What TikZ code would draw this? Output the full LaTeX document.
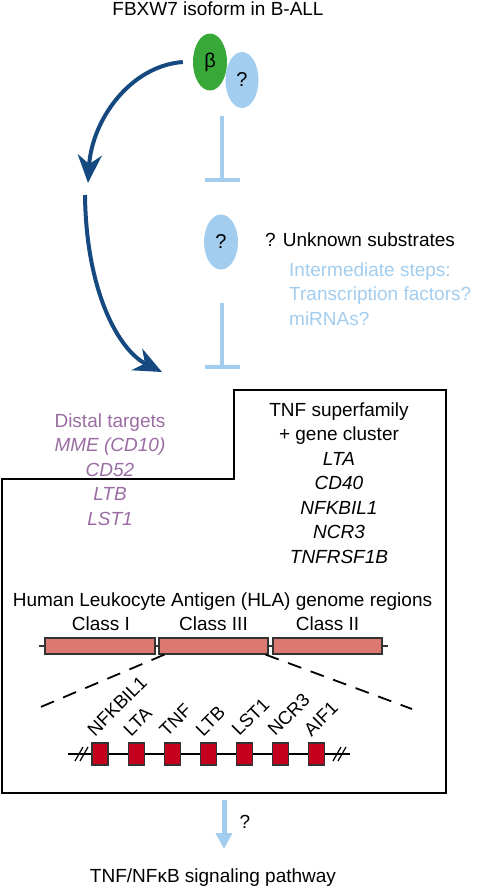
\documentclass[tikz,border=0pt]{standalone}
\usepackage{fontspec}
\setmainfont{Liberation Sans}
\usetikzlibrary{positioning,shapes.geometric,arrows.meta}
\definecolor{dkblue}{HTML}{15497F}
\definecolor{ltblue}{HTML}{A2CDEF}
\definecolor{leafgreen}{HTML}{38A838}
\definecolor{distal}{HTML}{9A6DA2}
\definecolor{salmon}{HTML}{DB786F}
\definecolor{crimson}{HTML}{C4001E}
\tikzset{
  txt/.style={font=\fontsize{19}{23}\selectfont, inner sep=0pt, anchor=base},
  blob/.style={ellipse, inner sep=0pt, font=\fontsize{20}{24}\selectfont},
  inhib/.style={line width=4pt, draw=ltblue, -{Bar[width=35pt 0]}},
  darrow/.style={line width=4pt, draw=dkblue, -{Stealth[length=28pt,width=24pt,inset=9pt]}},
  hlabar/.style={draw=black!80, fill=salmon, line width=1.2pt, minimum height=16pt, inner sep=0pt},
  genebox/.style={draw=black!80, fill=crimson, line width=1.2pt, minimum width=16pt, minimum height=22pt, inner sep=0pt},
  genelabel/.style={rotate=45, anchor=south west, inner sep=0pt, font=\fontsize{18.5}{22}\selectfont},
}
\begin{document}
\begin{tikzpicture}[x=1pt,y=-1pt]
\path[use as bounding box] (0,0) rectangle (477,886);
% top: FBXW7 isoform
\node[txt] (title) at (218,16) {FBXW7 isoform in B-ALL};
\node[blob, fill=leafgreen, minimum width=34pt, minimum height=57pt] (beta) at (210,62) {β};
\node[blob, fill=ltblue, minimum width=33pt, minimum height=56pt] (q1) at (242,80) {?};
\coordinate (i1s) at (222,116);
\coordinate (i1e) at (222,181.5);
\draw[inhib] (i1s) -- (i1e);
% substrates
\node[blob, fill=ltblue, minimum width=34pt, minimum height=55pt] (q2) at (221,242) {?};
\node[txt, anchor=base west] (unk) at (265,246) {? Unknown substrates};
\foreach \t [count=\i] in {Intermediate steps:, Transcription factors?, miRNAs?}
  \node[txt, anchor=base west, text=ltblue] (inter\i) at (289,{251.5+24.5*\i}) {\t};
\coordinate (i2s) at (222,303);
\coordinate (i2e) at (222,369);
\draw[inhib] (i2s) -- (i2e);
% distal arrow
\coordinate (a1e) at (88,183);
\coordinate (a2s) at (85,195);
\coordinate (a2e) at (162,372);
\draw[darrow] ([xshift=-10pt]beta.west) .. controls (130,66) and (92,120) .. (a1e);
\draw[darrow] (a2s) .. controls (86,290) and (118,350) .. (a2e);
% target box
\draw[line width=2pt] (2,479) -- (234,479) -- (234,390) -- (446,390) -- (446,793) -- (2,793) -- cycle;
\foreach \t [count=\i] in {Distal targets, \textit{MME (CD10)}, \textit{CD52}, \textit{LTB}, \textit{LST1}}
  \node[txt, text=distal] (dist\i) at (110,{402.5+24.5*\i}) {\t};
\foreach \t [count=\i] in {TNF superfamily, + gene cluster, \textit{LTA}, \textit{CD40}, \textit{NFKBIL1}, \textit{NCR3}, \textit{TNFRSF1B}}
  \node[txt] (tnf\i) at (339,{391.5+24.5*\i}) {\t};
% HLA regions
\node[txt] (hla) at (222.5,606) {Human Leukocyte Antigen (HLA) genome regions};
\coordinate (hl) at (39,646);
\coordinate (hr) at (388,646);
\draw[line width=1.2pt, black!80] (hl) -- (hr);
\node[hlabar, minimum width=110pt] (c1) at (100,646) {};
\node[hlabar, minimum width=109pt] (c3) at (213.5,646) {};
\node[hlabar, minimum width=109pt] (c2) at (327.5,646) {};
\node[txt] (lc1) at (101,630) {Class I};
\node[txt] (lc3) at (213.5,630) {Class III};
\node[txt] (lc2) at (327.5,630) {Class II};
\coordinate (zl) at (36,709);
\coordinate (zr) at (412,709);
\draw[line width=1.8pt, dash pattern=on 14pt off 10pt] ([xshift=6pt]c3.south west) -- (zl);
\draw[line width=1.8pt, dash pattern=on 14pt off 10pt] ([xshift=-3pt]c3.south east) -- (zr);
% class III genes
\coordinate (gl) at (68,754);
\coordinate (gr) at (350,754);
\draw[line width=1.2pt] (gl) -- (gr);
\draw[line width=1.2pt] (75,761) -- (83,747) (80,761) -- (88,747);
\draw[line width=1.2pt] (333,761) -- (341,747) (338,761) -- (346,747);
\foreach \g [count=\i] in {NFKBIL1,LTA,TNF,LTB,LST1,NCR3,AIF1} {
  \node[genebox] (g\i) at ({100+36.1*(\i-1)},754) {};
  \node[genelabel] (gt\i) at ([xshift=-5pt,yshift=5pt]g\i.north) {\g};
}
% pathway
\coordinate (ps) at (224,800);
\coordinate (pe) at (224,849);
\draw[line width=5pt, draw=ltblue, -{Triangle[length=16pt,width=16pt]}] (ps) -- (pe);
\node[txt] (pq) at (245,828) {?};
\node[txt] (path) at (213,882) {TNF/NFκB signaling pathway};
\end{tikzpicture}
\end{document}
